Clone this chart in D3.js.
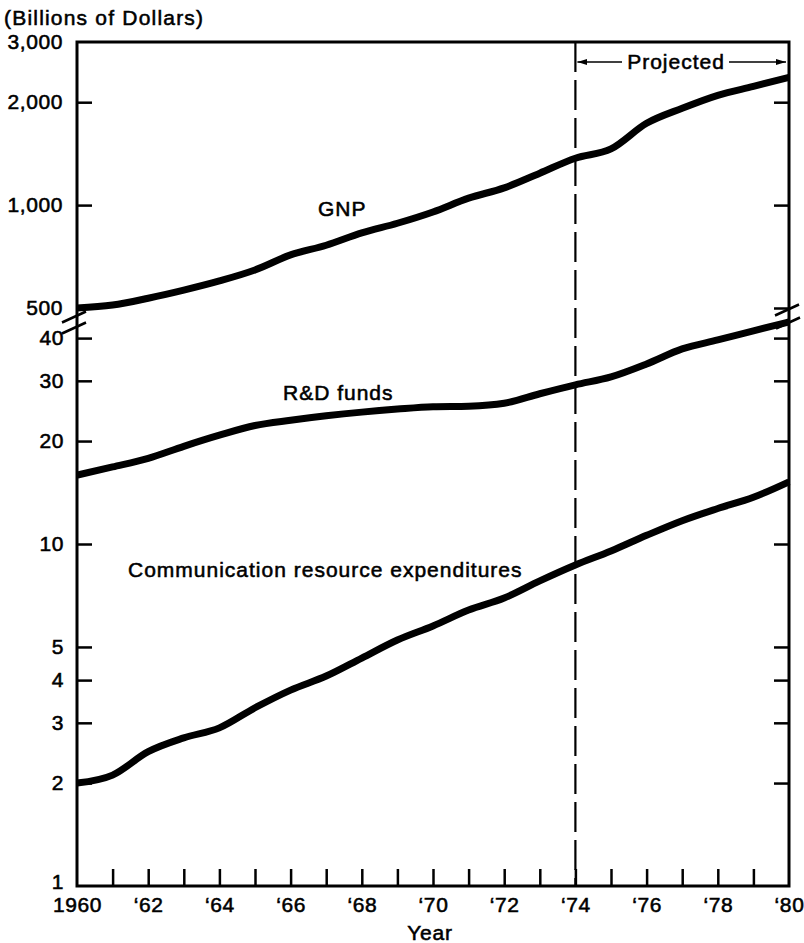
<!DOCTYPE html>
<html>
<head>
<meta charset="utf-8">
<script src="https://cdn.jsdelivr.net/npm/d3@7"></script>
<style>
  html, body { margin: 0; padding: 0; background: #fff; }
  svg text { font-family: "Liberation Sans", Arial, Helvetica, sans-serif; fill: #000; stroke: #000; stroke-width: 0.55px; }
</style>
</head>
<body>
<svg id="chart" width="804" height="943"></svg>
<script>
// Years on the horizontal axis
const years = d3.range(1960, 1981);

// Gross national product, billions of dollars (upper panel)
const gnp = [500, 510, 534, 564, 600, 646, 715, 763, 829, 885, 955,
             1048, 1123, 1240, 1371, 1460, 1735, 1920, 2095, 2225, 2365];

// Research and development funds, billions of dollars (lower panel)
const rdFunds = [15.9, 16.8, 17.8, 19.3, 20.8, 22.2, 23.0, 23.7, 24.3, 24.8, 25.2,
                 25.3, 25.8, 27.5, 29.2, 30.8, 33.6, 37.2, 39.5, 42.0, 44.6];

// Communication resource expenditures, billions of dollars (lower panel)
const commExp = [2.0, 2.11, 2.47, 2.71, 2.90, 3.32, 3.74, 4.11, 4.64, 5.24, 5.76,
                 6.41, 6.95, 7.80, 8.68, 9.54, 10.6, 11.7, 12.7, 13.7, 15.2];

// Axis tick values
const topTicks = [3000, 2000, 1000, 500];
const bottomTicks = [40, 30, 20, 10, 5, 4, 3, 2, 1];
const labelYears = [1960, 1962, 1964, 1966, 1968, 1970, 1972, 1974, 1976, 1978, 1980];
const projectionStart = 1974;

const svg = d3.select("#chart");
const fontSize = 21;

const x = d3.scaleLinear().domain([1960, 1980]).range([77, 789]);
// Both panels share the same height per decade
const yTop = d3.scaleLog().domain([500, 3000]).range([308, 42]);
const yBot = d3.scaleLog().domain([1, 10]).range([886, 544]);

const xLeft = x(1960), xRight = x(1980), yFrameTop = yTop(3000), yFrameBottom = yBot(1);

// Frame: top edge, both side axes and the bottom axis
svg.append("path")
  .attr("d", `M${xLeft},${yFrameBottom} L${xLeft},${yFrameTop} L${xRight},${yFrameTop} L${xRight},${yFrameBottom} Z`)
  .attr("fill", "none").attr("stroke", "#000").attr("stroke-width", 3);

function styleAxis(g) {
  g.select(".domain").remove();
  g.selectAll(".tick line").attr("stroke", "#000").attr("stroke-width", 2.5);
  g.selectAll(".tick text")
    .attr("font-size", fontSize)
    .attr("letter-spacing", "0.6px")
    .attr("font-family", "Liberation Sans, Arial, sans-serif");
}

// Left axis, upper panel
svg.append("g").attr("transform", `translate(${xLeft},0)`)
  .call(d3.axisLeft(yTop).tickValues(topTicks).tickFormat(d3.format(",")).tickSize(-15).tickPadding(14))
  .call(styleAxis)
  .call(g => g.selectAll(".tick").filter(d => d === 3000).select("line").remove());

// Left axis, lower panel
svg.append("g").attr("transform", `translate(${xLeft},0)`)
  .call(d3.axisLeft(yBot).tickValues(bottomTicks).tickFormat(d3.format("d")).tickSize(-15).tickPadding(13))
  .call(styleAxis)
  .call(g => g.selectAll(".tick").filter(d => d === 1).select("line").remove())
  .call(g => g.selectAll(".tick").filter(d => d === 1).select("text").attr("dy", "0.1em"));

// Right axis ticks (no labels)
svg.append("g").attr("transform", `translate(${xRight},0)`)
  .call(d3.axisRight(yTop).tickValues([2000, 1000, 500]).tickFormat("").tickSize(-15))
  .call(styleAxis);
svg.append("g").attr("transform", `translate(${xRight},0)`)
  .call(d3.axisRight(yBot).tickValues([40, 30, 20, 10, 5, 4, 3, 2]).tickFormat("").tickSize(-15))
  .call(styleAxis);

// Bottom axis: a tick every year, labels on even years
const fmtYear = d => d === 1960 ? "1960" : "\u2018" + String(d).slice(2);
svg.append("g").attr("transform", `translate(0,${yFrameBottom})`)
  .call(d3.axisBottom(x).tickValues(years.filter(d => d > 1960 && d < 1980)).tickFormat("").tickSize(-17))
  .call(styleAxis);
svg.append("g").attr("transform", `translate(0,${yFrameBottom})`)
  .call(d3.axisBottom(x).tickValues(labelYears).tickFormat(fmtYear).tickSize(0).tickPadding(11))
  .call(styleAxis);

// Axis break marks between the two panels
const breaks = svg.append("g").attr("stroke", "#000").attr("stroke-width", 2.5);
[[xLeft - 3, 317], [xLeft - 3, 328], [xRight - 2, 310], [xRight - 1, 323]].forEach(([cx, cy]) => {
  breaks.append("line")
    .attr("x1", cx - 12).attr("y1", cy + 5.5)
    .attr("x2", cx + 12).attr("y2", cy - 5.5);
});

// Dashed divider at the start of the projection
svg.append("line")
  .attr("x1", x(projectionStart)).attr("x2", x(projectionStart))
  .attr("y1", yFrameTop).attr("y2", yFrameBottom)
  .attr("stroke", "#000").attr("stroke-width", 2.2)
  .attr("stroke-dasharray", "30,8");

// Projection bracket with arrowheads
const defs = svg.append("defs");
defs.append("marker").attr("id", "arrow")
  .attr("viewBox", "0 0 10 6").attr("refX", 10).attr("refY", 3)
  .attr("markerWidth", 10).attr("markerHeight", 6).attr("markerUnits", "userSpaceOnUse")
  .attr("orient", "auto")
  .append("path").attr("d", "M0,0 L10,3 L0,6 Z").attr("fill", "#000");

const projY = 62;
svg.append("line").attr("x1", 622).attr("y1", projY).attr("x2", x(projectionStart) + 2).attr("y2", projY)
  .attr("stroke", "#000").attr("stroke-width", 1.6).attr("marker-end", "url(#arrow)");
svg.append("line").attr("x1", 729).attr("y1", projY).attr("x2", xRight - 3).attr("y2", projY)
  .attr("stroke", "#000").attr("stroke-width", 1.6).attr("marker-end", "url(#arrow)");
svg.append("text").attr("x", 676).attr("y", projY + 7).attr("text-anchor", "middle")
  .attr("font-size", fontSize).attr("letter-spacing", "1px").text("Projected");

// Data lines
const lineTop = d3.line().x((d, i) => x(years[i])).y(d => yTop(d)).curve(d3.curveMonotoneX);
const lineBot = d3.line().x((d, i) => x(years[i])).y(d => yBot(d)).curve(d3.curveMonotoneX);

const lines = svg.append("g").attr("fill", "none").attr("stroke", "#000")
  .attr("stroke-width", 7).attr("stroke-linejoin", "round");
lines.append("path").attr("d", lineTop(gnp));
lines.append("path").attr("d", lineBot(rdFunds));
lines.append("path").attr("d", lineBot(commExp));

// Series labels
const labels = [
  { text: "GNP", x: 318, y: 216 },
  { text: "R&D funds", x: 283, y: 400 },
  { text: "Communication resource expenditures", x: 128, y: 577 }
];
svg.append("g").selectAll("text").data(labels).join("text")
  .attr("x", d => d.x).attr("y", d => d.y)
  .attr("font-size", fontSize).attr("letter-spacing", "1px")
  .text(d => d.text);

// Units and axis title
svg.append("text").attr("x", 4).attr("y", 25).attr("font-size", fontSize)
  .attr("letter-spacing", "1.2px").text("(Billions of Dollars)");
svg.append("text").attr("x", 430).attr("y", 940).attr("text-anchor", "middle")
  .attr("font-size", fontSize).attr("letter-spacing", "0.8px").text("Year");
</script>
</body>
</html>
